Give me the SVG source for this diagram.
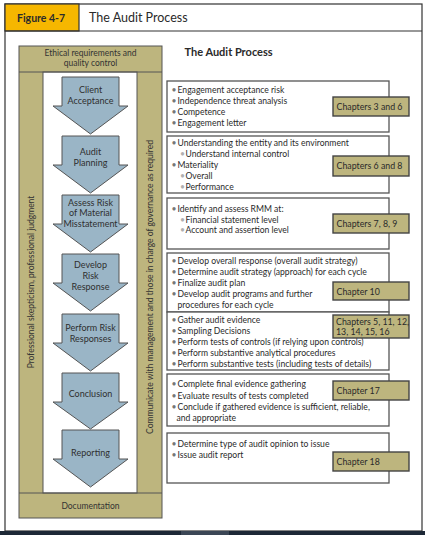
<svg xmlns="http://www.w3.org/2000/svg" width="425" height="535" viewBox="0 0 425 535">
<style>
text{font-family:Lato,"Liberation Sans",sans-serif;fill:#2a2a2a}
.olive{fill:#bdb57e;stroke:#555;stroke-width:1}
.arrow{fill:#9ab5c6;stroke:#555;stroke-width:1}
.at{font-size:9px;text-anchor:middle;fill:#2f2f2f}
.pt{font-size:8.5px;text-anchor:middle;fill:#333}
.box{fill:#fff;stroke:#555;stroke-width:1.3}
.tag{fill:#bdb57e;stroke:#444;stroke-width:1.4}
.bt{font-size:8.6px}
.tt{font-size:8.8px}
.b{fill:#777}
.sb{fill:#b0b0b0}
</style>
<rect x="0" y="0" width="425" height="535" fill="#fff"/>
<g id="frame">
<rect x="5" y="4" width="417" height="527" fill="#fff" stroke="#333" stroke-width="1.2"/>
<rect x="5" y="4" width="74" height="27" fill="#f6b700" stroke="#333" stroke-width="1.2"/>
<line x1="5" y1="31" x2="422" y2="31" stroke="#333" stroke-width="1.2"/>
<text x="17" y="22" font-size="10.5" font-weight="bold" fill="#1a1a1a">Figure 4-7</text>
<text x="89" y="22" font-size="12.5" fill="#333">The Audit Process</text>
<rect x="0" y="531" width="425" height="4" fill="#1d2836"/>
<rect x="181" y="531" width="48" height="4" fill="#3b4655"/>
</g>
<g id="panel">
<rect class="olive" x="19" y="46" width="143" height="472"/>
<rect x="43" y="72" width="94" height="421" fill="#fff" stroke="#555" stroke-width="1"/>
<line x1="19" y1="72" x2="162" y2="72" stroke="#555"/>
<line x1="19" y1="493" x2="162" y2="493" stroke="#555"/>
</g>
<g id="ethical">
<text class="pt" x="90.5" y="56">Ethical requirements and</text>
<text class="pt" x="90.5" y="66">quality control</text>
</g>
<g id="documentation">
<text class="pt" x="90.5" y="509" font-size="9">Documentation</text>
</g>
<g id="skepticism">
<text class="pt" font-size="8" transform="translate(34,282) rotate(-90)">Professional skepticism, professional judgment</text>
</g>
<g id="communicate">
<text class="pt" font-size="8.4" transform="translate(152.5,287) rotate(-90)">Communicate with management and those in charge of governance as required</text>
</g>
<g id="title">
<text x="184.5" y="56" font-size="11" font-weight="bold" fill="#1a1a1a">The Audit Process</text>
</g>
<g id="connectors"></g>
<g id="client-acceptance">
<path class="arrow" d="M62,77 H119 V106 H128 L90.5,134 L53,106 H62 Z"/>
<text class="at" x="90.5" y="93">Client</text>
<text class="at" x="90.5" y="104">Acceptance</text>
</g>
<g id="audit-planning">
<path class="arrow" d="M62,136 H119 V165 H128 L90.5,193 L53,165 H62 Z"/>
<text class="at" x="90.5" y="154.5">Audit</text>
<text class="at" x="90.5" y="165.5">Planning</text>
</g>
<g id="assess-risk">
<path class="arrow" d="M62,195 H119 V224 H128 L90.5,252 L53,224 H62 Z"/>
<text class="at" x="90.5" y="205.5">Assess Risk</text>
<text class="at" x="90.5" y="216">of Material</text>
<text class="at" x="90.5" y="226.5">Misstatement</text>
</g>
<g id="develop-risk-response">
<path class="arrow" d="M62,254 H119 V283 H128 L90.5,311 L53,283 H62 Z"/>
<text class="at" x="90.5" y="268">Develop</text>
<text class="at" x="90.5" y="278.5">Risk</text>
<text class="at" x="90.5" y="289.5">Response</text>
</g>
<g id="perform-risk-responses">
<path class="arrow" d="M62,314 H119 V343 H128 L90.5,371 L53,343 H62 Z"/>
<text class="at" x="90.5" y="331">Perform Risk</text>
<text class="at" x="90.5" y="342">Responses</text>
</g>
<g id="conclusion">
<path class="arrow" d="M62,373 H119 V402 H128 L90.5,429 L53,402 H62 Z"/>
<text class="at" x="90.5" y="396.5">Conclusion</text>
</g>
<g id="reporting">
<path class="arrow" d="M62,430 H119 V459 H128 L90.5,487 L53,459 H62 Z"/>
<text class="at" x="90.5" y="456">Reporting</text>
</g>
<g id="box1">
<rect class="box" x="167" y="81" width="222" height="51"/>
<text class="bt" y="93"><tspan class="b" x="171.5">•</tspan><tspan x="177.5">Engagement acceptance risk</tspan></text>
<text class="bt" y="104"><tspan class="b" x="171.5">•</tspan><tspan x="177.5">Independence threat analysis</tspan></text>
<text class="bt" y="115"><tspan class="b" x="171.5">•</tspan><tspan x="177.5">Competence</tspan></text>
<text class="bt" y="126"><tspan class="b" x="171.5">•</tspan><tspan x="177.5">Engagement letter</tspan></text>
<rect class="tag" x="333" y="97" width="76" height="19"/>
<text class="tt" x="336.5" y="110">Chapters 3 and 6</text>
</g>
<g id="box2">
<rect class="box" x="167" y="136" width="222" height="57"/>
<text class="bt" y="145.5"><tspan class="b" x="171.5">•</tspan><tspan x="177.5">Understanding the entity and its environment</tspan></text>
<text class="bt" y="156.5"><tspan class="sb" x="180">•</tspan><tspan x="185.5">Understand internal control</tspan></text>
<text class="bt" y="167.5"><tspan class="b" x="171.5">•</tspan><tspan x="177.5">Materiality</tspan></text>
<text class="bt" y="178.5"><tspan class="sb" x="180">•</tspan><tspan x="185.5">Overall</tspan></text>
<text class="bt" y="189.5"><tspan class="sb" x="180">•</tspan><tspan x="185.5">Performance</tspan></text>
<rect class="tag" x="333" y="156" width="76" height="20"/>
<text class="tt" x="336.5" y="169">Chapters 6 and 8</text>
</g>
<g id="box3">
<rect class="box" x="167" y="198" width="222" height="51"/>
<text class="bt" y="212"><tspan class="b" x="171.5">•</tspan><tspan x="177.5">Identify and assess RMM at:</tspan></text>
<text class="bt" y="222.5"><tspan class="sb" x="180">•</tspan><tspan x="185.5">Financial statement level</tspan></text>
<text class="bt" y="233"><tspan class="sb" x="180">•</tspan><tspan x="185.5">Account and assertion level</tspan></text>
<rect class="tag" x="333" y="214" width="76" height="19"/>
<text class="tt" x="336.5" y="227">Chapters 7, 8, 9</text>
</g>
<g id="box4">
<rect class="box" x="167" y="253" width="222" height="59"/>
<text class="bt" y="264"><tspan class="b" x="171.5">•</tspan><tspan x="177.5">Develop overall response (overall audit strategy)</tspan></text>
<text class="bt" y="275"><tspan class="b" x="171.5">•</tspan><tspan x="177.5">Determine audit strategy (approach) for each cycle</tspan></text>
<text class="bt" y="286"><tspan class="b" x="171.5">•</tspan><tspan x="177.5">Finalize audit plan</tspan></text>
<text class="bt" y="297"><tspan class="b" x="171.5">•</tspan><tspan x="177.5">Develop audit programs and further</tspan></text>
<text class="bt" x="177.5" y="308">procedures for each cycle</text>
<rect class="tag" x="333" y="282" width="76" height="18"/>
<text class="tt" x="336.5" y="294.5">Chapter 10</text>
</g>
<g id="box5">
<rect class="box" x="167" y="312" width="222" height="58"/>
<text class="bt" y="323"><tspan class="b" x="171.5">•</tspan><tspan x="177.5">Gather audit evidence</tspan></text>
<text class="bt" y="334"><tspan class="b" x="171.5">•</tspan><tspan x="177.5">Sampling Decisions</tspan></text>
<text class="bt" y="345"><tspan class="b" x="171.5">•</tspan><tspan x="177.5">Perform tests of controls (if relying upon controls)</tspan></text>
<text class="bt" y="356"><tspan class="b" x="171.5">•</tspan><tspan x="177.5">Perform substantive analytical procedures</tspan></text>
<text class="bt" y="367"><tspan class="b" x="171.5">•</tspan><tspan x="177.5">Perform substantive tests (including tests of details)</tspan></text>
<rect class="tag" x="333" y="315" width="76" height="23"/>
<text class="tt" x="336" y="324.5">Chapters 5, 11, 12,</text>
<text class="tt" x="336" y="335">13, 14, 15, 16</text>
</g>
<g id="box6">
<rect class="box" x="167" y="374" width="222" height="52"/>
<text class="bt" y="387"><tspan class="b" x="171.5">•</tspan><tspan x="177.5">Complete final evidence gathering</tspan></text>
<text class="bt" y="398.5"><tspan class="b" x="171.5">•</tspan><tspan x="177.5">Evaluate results of tests completed</tspan></text>
<text class="bt" y="409.5"><tspan class="b" x="171.5">•</tspan><tspan x="177.5">Conclude if gathered evidence is sufficient, reliable,</tspan></text>
<text class="bt" x="176.5" y="420.5">and appropriate</text>
<rect class="tag" x="333" y="381" width="76" height="19"/>
<text class="tt" x="336.5" y="394">Chapter 17</text>
</g>
<g id="box7">
<rect class="box" x="167" y="433" width="222" height="50"/>
<text class="bt" y="447"><tspan class="b" x="171.5">•</tspan><tspan x="177.5">Determine type of audit opinion to issue</tspan></text>
<text class="bt" y="458"><tspan class="b" x="171.5">•</tspan><tspan x="177.5">Issue audit report</tspan></text>
<rect class="tag" x="333" y="452" width="76" height="19"/>
<text class="tt" x="336.5" y="464.5">Chapter 18</text>
</g>
</svg>
